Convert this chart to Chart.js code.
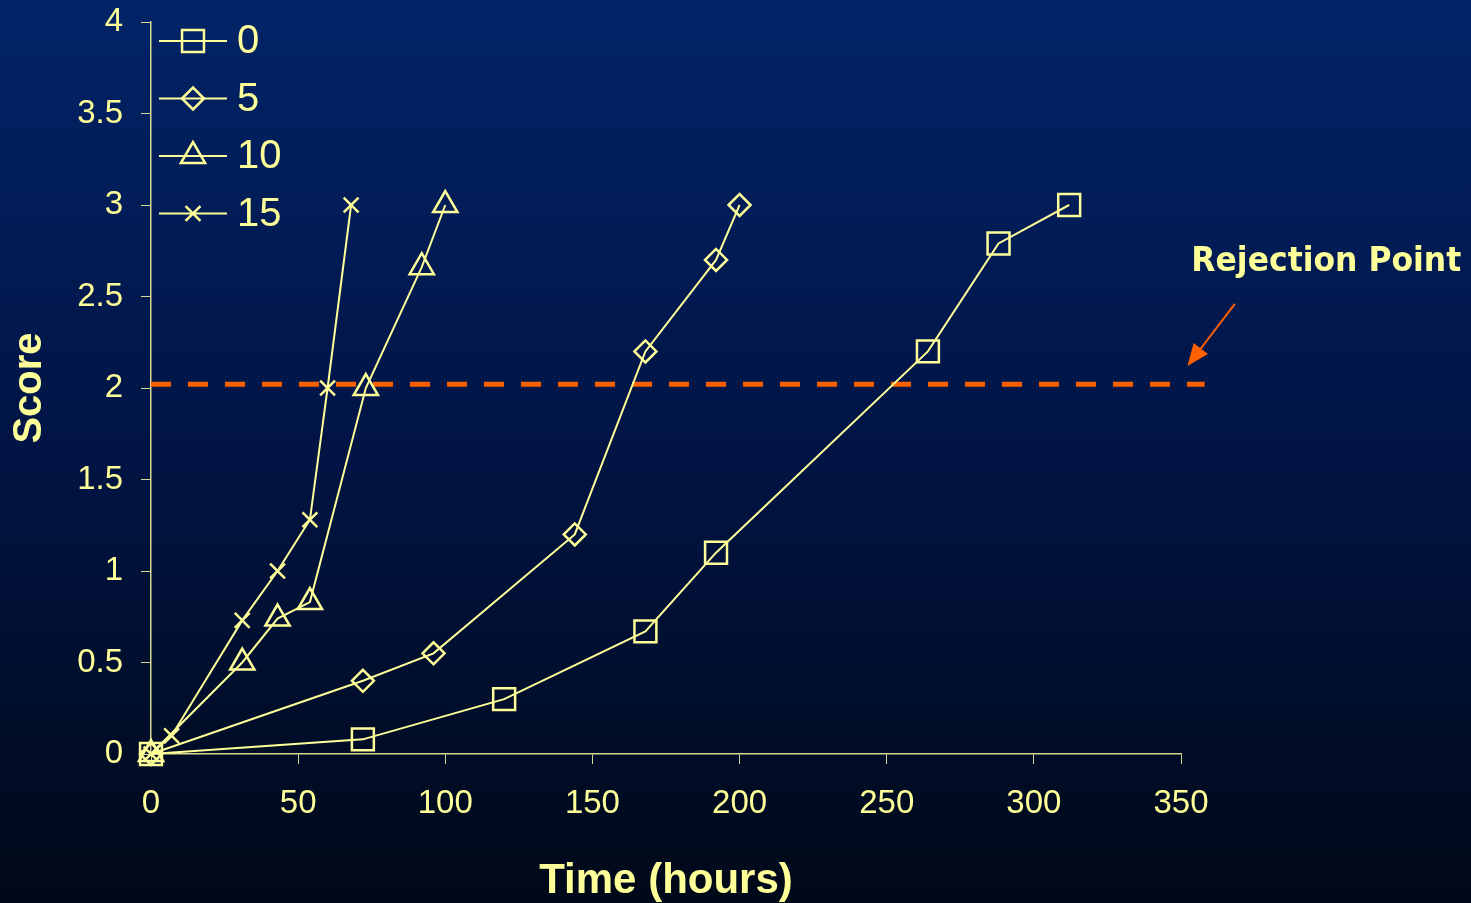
<!DOCTYPE html>
<html>
<head>
<meta charset="utf-8">
<script src="https://cdn.jsdelivr.net/npm/chart.js@4"></script>
<style>
  html, body { margin: 0; padding: 0; background: #000a1c; }
  canvas { display: block; }
</style>
</head>
<body>
<canvas id="graficoScore" width="1471" height="903"></canvas>
<script>
/* ============================================================
   DADOS
============================================================ */
const legendas = ["0", "5", "10", "15"];

const tempo0 = [0, 72, 120, 168, 192, 264, 288, 312];
const score0 = [0, 0.08, 0.3, 0.67, 1.1, 2.2, 2.79, 3];

const tempo5 = [0, 72, 96, 144, 168, 192, 200];
const score5 = [0, 0.4, 0.55, 1.2, 2.2, 2.7, 3];

const tempo10 = [0, 31, 43, 54, 73, 92, 100];
const score10 = [0, 0.5, 0.74, 0.83, 2, 2.66, 3];

const tempo15 = [0, 7, 31, 43, 54, 60, 68];
const score15 = [0, 0.1, 0.73, 1, 1.28, 2, 3];

const rejeicaoX = [0, 358];
const rejeicaoY = [2.02, 2.02];

const ticksX = [0, 50, 100, 150, 200, 250, 300, 350];
const ticksY = [0, 0.5, 1, 1.5, 2, 2.5, 3, 3.5, 4];

const AMARELO = "#ffff99";
const LARANJA = "#ff6000";
const FONTE = "'Liberation Sans', Arial, sans-serif";

const pontos = (xs, ys) => xs.map((x, i) => ({ x: x, y: ys[i] }));

const serie = (label, xs, ys, estilo, raio) => ({
  label: label,
  data: pontos(xs, ys),
  borderColor: AMARELO,
  backgroundColor: "transparent",
  borderWidth: 2,
  pointStyle: estilo,
  pointRadius: raio,
  pointBorderWidth: 2.5,
  pointBorderColor: AMARELO,
  pointBackgroundColor: "transparent",
  tension: 0,
  clip: false,
});

/* ============================================================
   PLUGINS: fundo, legenda e anotação
============================================================ */
const fundo = {
  id: "fundo",
  beforeDraw(chart) {
    const ctx = chart.ctx;
    const g = ctx.createLinearGradient(0, 0, 0, chart.height);
    g.addColorStop(0, "#022468");
    g.addColorStop(0.5, "#011444");
    g.addColorStop(1, "#000918");
    ctx.save();
    ctx.fillStyle = g;
    ctx.fillRect(0, 0, chart.width, chart.height);
    ctx.restore();
  },
};

const legendaInterna = {
  id: "legendaInterna",
  afterDraw(chart) {
    const ctx = chart.ctx;
    const area = chart.chartArea;
    ctx.save();
    for (let i = 0; i < 4; i++) {
      const ds = chart.data.datasets[i];
      const y = area.top + 19 + i * 57.5;
      const x0 = area.left + 8;
      ctx.strokeStyle = AMARELO;
      ctx.lineWidth = 2;
      ctx.beginPath();
      ctx.moveTo(x0, y);
      ctx.lineTo(x0 + 68, y);
      ctx.stroke();
      ctx.lineWidth = 2.5;
      ctx.fillStyle = "transparent";
      Chart.helpers.drawPoint(
        ctx,
        { pointStyle: ds.pointStyle, radius: ds.pointRadius, rotation: 0, borderWidth: 2.5 },
        x0 + 34,
        y
      );
      ctx.fillStyle = AMARELO;
      ctx.font = "40px " + FONTE;
      ctx.textBaseline = "middle";
      ctx.textAlign = "left";
      ctx.fillText(ds.label, x0 + 78, y + 1);
    }
    ctx.restore();
  },
};

const anotacao = {
  id: "anotacao",
  afterDraw(chart) {
    const ctx = chart.ctx;
    const sx = chart.scales.x;
    const sy = chart.scales.y;
    ctx.save();
    // texto
    ctx.fillStyle = AMARELO;
    ctx.font = "bold 33px 'Comic Sans MS', 'DejaVu Sans', sans-serif";
    ctx.textBaseline = "alphabetic";
    ctx.textAlign = "left";
    ctx.fillText("Rejection Point", sx.getPixelForValue(353.5), sy.getPixelForValue(2.64), 270);
    // seta
    const x1 = sx.getPixelForValue(368.3), y1 = sy.getPixelForValue(2.46);
    const x2 = sx.getPixelForValue(352.2), y2 = sy.getPixelForValue(2.12);
    const ang = Math.atan2(y2 - y1, x2 - x1);
    ctx.strokeStyle = LARANJA;
    ctx.fillStyle = LARANJA;
    ctx.lineWidth = 2;
    ctx.beginPath();
    ctx.moveTo(x1, y1);
    ctx.lineTo(x2 - Math.cos(ang) * 12, y2 - Math.sin(ang) * 12);
    ctx.stroke();
    ctx.beginPath();
    ctx.moveTo(x2, y2);
    ctx.lineTo(x2 - Math.cos(ang) * 22 + Math.sin(ang) * 9, y2 - Math.sin(ang) * 22 - Math.cos(ang) * 9);
    ctx.lineTo(x2 - Math.cos(ang) * 22 - Math.sin(ang) * 9, y2 - Math.sin(ang) * 22 + Math.cos(ang) * 9);
    ctx.closePath();
    ctx.fill();
    ctx.restore();
  },
};

/* ============================================================
   GRÁFICO
============================================================ */
new Chart(document.getElementById("graficoScore"), {
  type: "line",
  data: {
    datasets: [
      serie(legendas[0], tempo0, score0, "rect", 15.5),
      serie(legendas[1], tempo5, score5, "rectRot", 11),
      serie(legendas[2], tempo10, score10, "triangle", 14),
      serie(legendas[3], tempo15, score15, "crossRot", 10.5),
      {
        label: "Rejection",
        data: pontos(rejeicaoX, rejeicaoY),
        borderColor: LARANJA,
        borderWidth: 5,
        borderDash: [20, 17],
        pointRadius: 0,
        clip: false,
      },
    ],
  },
  options: {
    responsive: false,
    animation: false,
    layout: { padding: { top: 22, right: 290, left: 0, bottom: 0 } },
    plugins: {
      legend: { display: false },
      tooltip: { enabled: false },
    },
    scales: {
      x: {
        type: "linear",
        min: 0,
        max: 350,
        afterBuildTicks: (s) => { s.ticks = ticksX.map((v) => ({ value: v })); },
        afterFit: (s) => {
          s.height = 149;
          s.paddingLeft = 0;
          s.paddingRight = 0;
        },
        grid: { drawOnChartArea: false, drawTicks: true, tickLength: 10, color: "#d8d890", lineWidth: 1 },
        border: { color: "#d8d890", width: 1.5 },
        ticks: {
          color: AMARELO,
          padding: 20,
          font: { family: FONTE, size: 33 },
          maxRotation: 0,
          callback: (v) => String(v),
        },
        title: {
          display: true,
          text: "Time (hours)",
          color: AMARELO,
          font: { family: FONTE, size: 42, weight: "bold" },
          padding: { top: 0, bottom: -4 },
        },
      },
      y: {
        type: "linear",
        min: 0,
        max: 4,
        afterBuildTicks: (s) => { s.ticks = ticksY.map((v) => ({ value: v })); },
        afterFit: (s) => {
          s.width = 151;
          s.paddingTop = 0;
          s.paddingBottom = 0;
        },
        grid: { drawOnChartArea: false, drawTicks: true, tickLength: 10, color: "#d8d890", lineWidth: 1 },
        border: { color: "#d8d890", width: 1.5 },
        ticks: {
          color: AMARELO,
          padding: 18,
          font: { family: FONTE, size: 33 },
          callback: (v) => String(v),
        },
        title: {
          display: true,
          text: "Score",
          color: AMARELO,
          font: { family: FONTE, size: 40, weight: "bold" },
          padding: { top: 6, bottom: 8 },
        },
      },
    },
  },
  plugins: [fundo, legendaInterna, anotacao],
});
</script>
</body>
</html>
